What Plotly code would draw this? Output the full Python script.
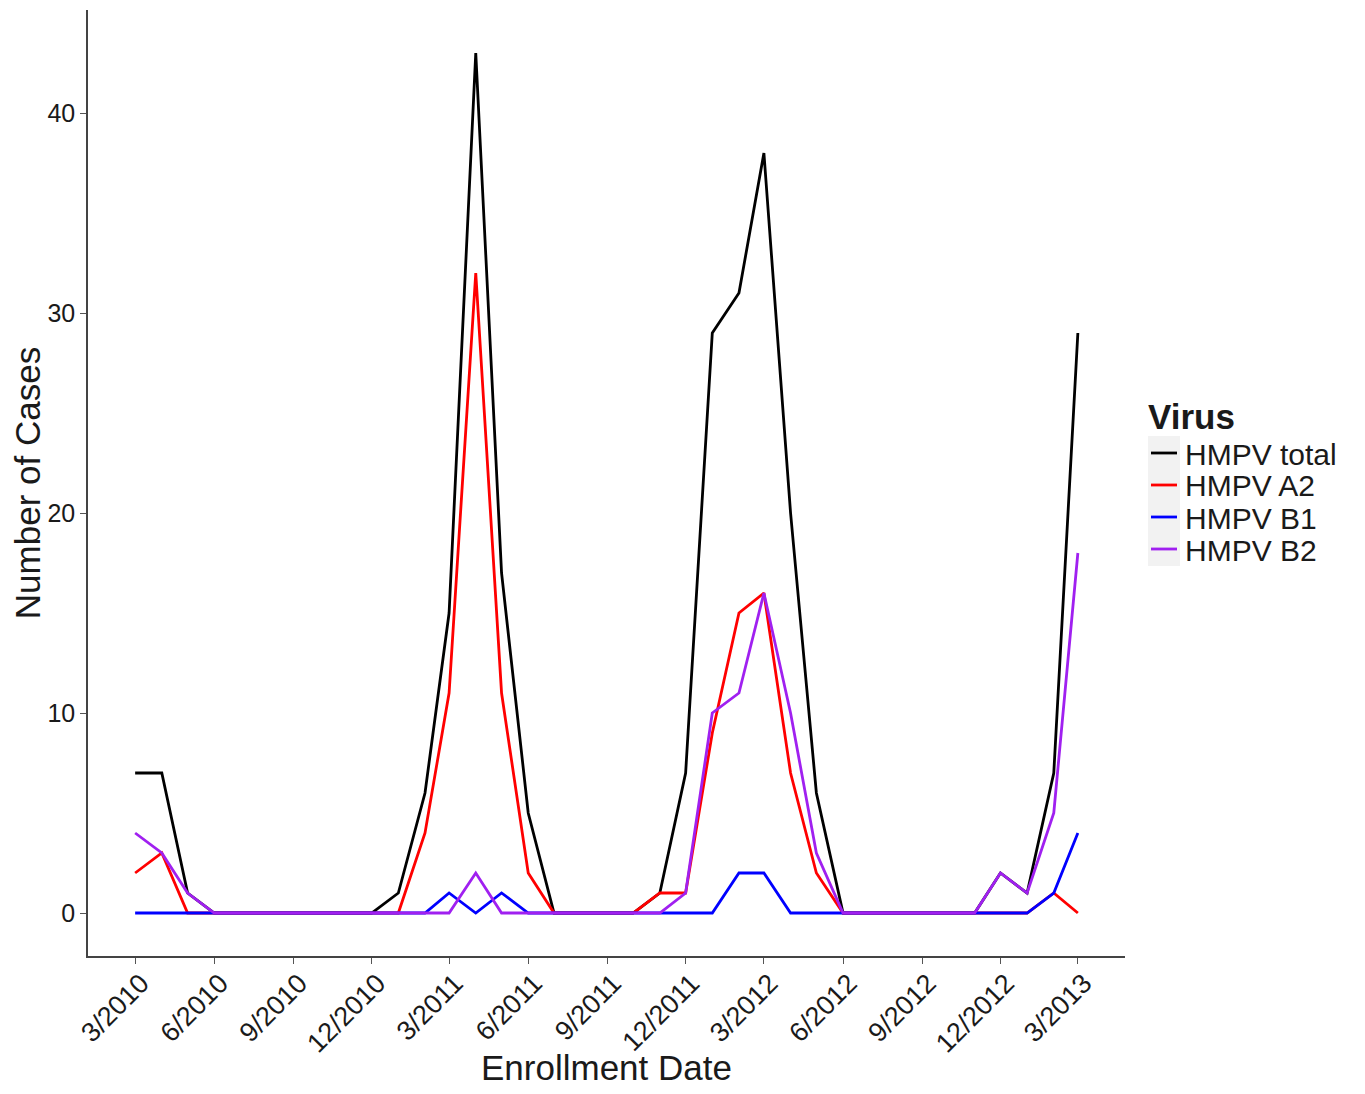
import plotly.graph_objects as go
import pandas as pd

# ---- data ----
months = [
    "2010-03-01", "2010-04-01", "2010-05-01", "2010-06-01", "2010-07-01", "2010-08-01",
    "2010-09-01", "2010-10-01", "2010-11-01", "2010-12-01", "2011-01-01", "2011-02-01",
    "2011-03-01", "2011-04-01", "2011-05-01", "2011-06-01", "2011-07-01", "2011-08-01",
    "2011-09-01", "2011-10-01", "2011-11-01", "2011-12-01", "2012-01-01", "2012-02-01",
    "2012-03-01", "2012-04-01", "2012-05-01", "2012-06-01", "2012-07-01", "2012-08-01",
    "2012-09-01", "2012-10-01", "2012-11-01", "2012-12-01", "2013-01-01", "2013-02-01",
    "2013-03-01",
]
hmpv_total = [7, 7, 1, 0, 0, 0, 0, 0, 0, 0, 1, 6, 15, 43, 17, 5, 0, 0, 0, 0, 1, 7, 29, 31,
              38, 20, 6, 0, 0, 0, 0, 0, 0, 2, 1, 7, 29]
hmpv_a2 = [2, 3, 0, 0, 0, 0, 0, 0, 0, 0, 0, 4, 11, 32, 11, 2, 0, 0, 0, 0, 1, 1, 9, 15,
           16, 7, 2, 0, 0, 0, 0, 0, 0, 0, 0, 1, 0]
hmpv_b1 = [0, 0, 0, 0, 0, 0, 0, 0, 0, 0, 0, 0, 1, 0, 1, 0, 0, 0, 0, 0, 0, 0, 0, 2,
           2, 0, 0, 0, 0, 0, 0, 0, 0, 0, 0, 1, 4]
hmpv_b2 = [4, 3, 1, 0, 0, 0, 0, 0, 0, 0, 0, 0, 0, 2, 0, 0, 0, 0, 0, 0, 0, 1, 10, 11,
           16, 10, 3, 0, 0, 0, 0, 0, 0, 2, 1, 5, 18]

series_names = ["HMPV total", "HMPV A2", "HMPV B1", "HMPV B2"]
series_values = [hmpv_total, hmpv_a2, hmpv_b1, hmpv_b2]
series_colors = ["#000000", "#FF0000", "#0000FF", "#A020F0"]

tick_dates = ["2010-03-01", "2010-06-01", "2010-09-01", "2010-12-01", "2011-03-01",
              "2011-06-01", "2011-09-01", "2011-12-01", "2012-03-01", "2012-06-01",
              "2012-09-01", "2012-12-01", "2013-03-01"]
tick_labels = ["3/2010", "6/2010", "9/2010", "12/2010", "3/2011", "6/2011", "9/2011",
               "12/2011", "3/2012", "6/2012", "9/2012", "12/2012", "3/2013"]
y_ticks = [0, 10, 20, 30, 40]

# ---- layout geometry (page pixels; the page body adds an 8px margin) ----
OFF = 8
W, H = 1365 - 2 * OFF, 1094 - 2 * OFF
L, R, T, B = 88 - OFF, 1125 - OFF, 10 - OFF, 956 - OFF   # plot area edges in figure px


def px(x):
    """page x pixel -> paper coordinate"""
    return (x - OFF - L) / (R - L)


def py(y):
    """page y pixel -> paper coordinate"""
    return (B - (y - OFF)) / (B - T)


FONT = "Liberation Sans, Arial, Helvetica, sans-serif"
TXT = "#1a1a1a"
LW = 2.8

fig = go.Figure()
for name, vals, col in zip(series_names, series_values, series_colors):
    fig.add_trace(go.Scatter(
        x=months, y=vals, mode="lines", name=name,
        line=dict(color=col, width=LW), showlegend=False,
    ))

start = pd.Timestamp(months[0])
end = pd.Timestamp(months[-1])
pad = (end - start) * 0.05
ymax = max(hmpv_total)
ypad = ymax * 0.05

fig.update_layout(
    width=W, height=H,
    margin=dict(l=L, r=W - R, t=T, b=H - B, autoexpand=False),
    paper_bgcolor="white", plot_bgcolor="white",
    font=dict(family=FONT, color=TXT),
    xaxis=dict(
        type="date",
        range=[start - pad, end + pad],
        tickmode="array", tickvals=tick_dates, ticktext=tick_labels,
        tickangle=-45, tickfont=dict(size=27, color=TXT),
        ticklabelstandoff=-7, ticklabelshift=6,
        ticks="outside", ticklen=6, tickwidth=1.2, tickcolor="#555555",
        showline=True, linecolor="#444444", linewidth=1.6,
        showgrid=False, zeroline=False,
    ),
    yaxis=dict(
        range=[-ypad, ymax + ypad],
        tickmode="array", tickvals=y_ticks,
        tickfont=dict(size=25, color=TXT),
        ticks="outside", ticklen=6, tickwidth=1.2, tickcolor="#555555",
        showline=True, linecolor="#444444", linewidth=1.6,
        showgrid=False, zeroline=False,
        title=dict(text="Number of Cases", font=dict(size=35, color=TXT), standoff=0),
    ),
)

# ---- x-axis title and manual legend (ggplot style) ----
annotations = [dict(text="Enrollment Date", xref="paper", yref="paper",
                    x=px(606), y=py(1067), xanchor="center", yanchor="middle",
                    showarrow=False, font=dict(size=35, color=TXT, family=FONT))]
shapes = [dict(type="rect", xref="paper", yref="paper",
               x0=px(1148), x1=px(1180), y0=py(566), y1=py(436),
               fillcolor="#F2F2F2", line=dict(width=0), layer="below")]
annotations.append(dict(text="<b>Virus</b>", xref="paper", yref="paper",
                        x=px(1146), y=py(416), xanchor="left", yanchor="middle",
                        showarrow=False, font=dict(size=35, color=TXT, family=FONT)))
row_y = [453, 485, 517, 549]
for name, col, yy in zip(series_names, series_colors, row_y):
    shapes.append(dict(type="line", xref="paper", yref="paper",
                       x0=px(1151), x1=px(1177), y0=py(yy), y1=py(yy),
                       line=dict(color=col, width=LW)))
    annotations.append(dict(text=name, xref="paper", yref="paper",
                            x=px(1183), y=py(yy + 1), xanchor="left", yanchor="middle",
                            showarrow=False, font=dict(size=30, color=TXT, family=FONT)))
fig.update_layout(shapes=shapes, annotations=annotations)

fig.write_html("out.html")
